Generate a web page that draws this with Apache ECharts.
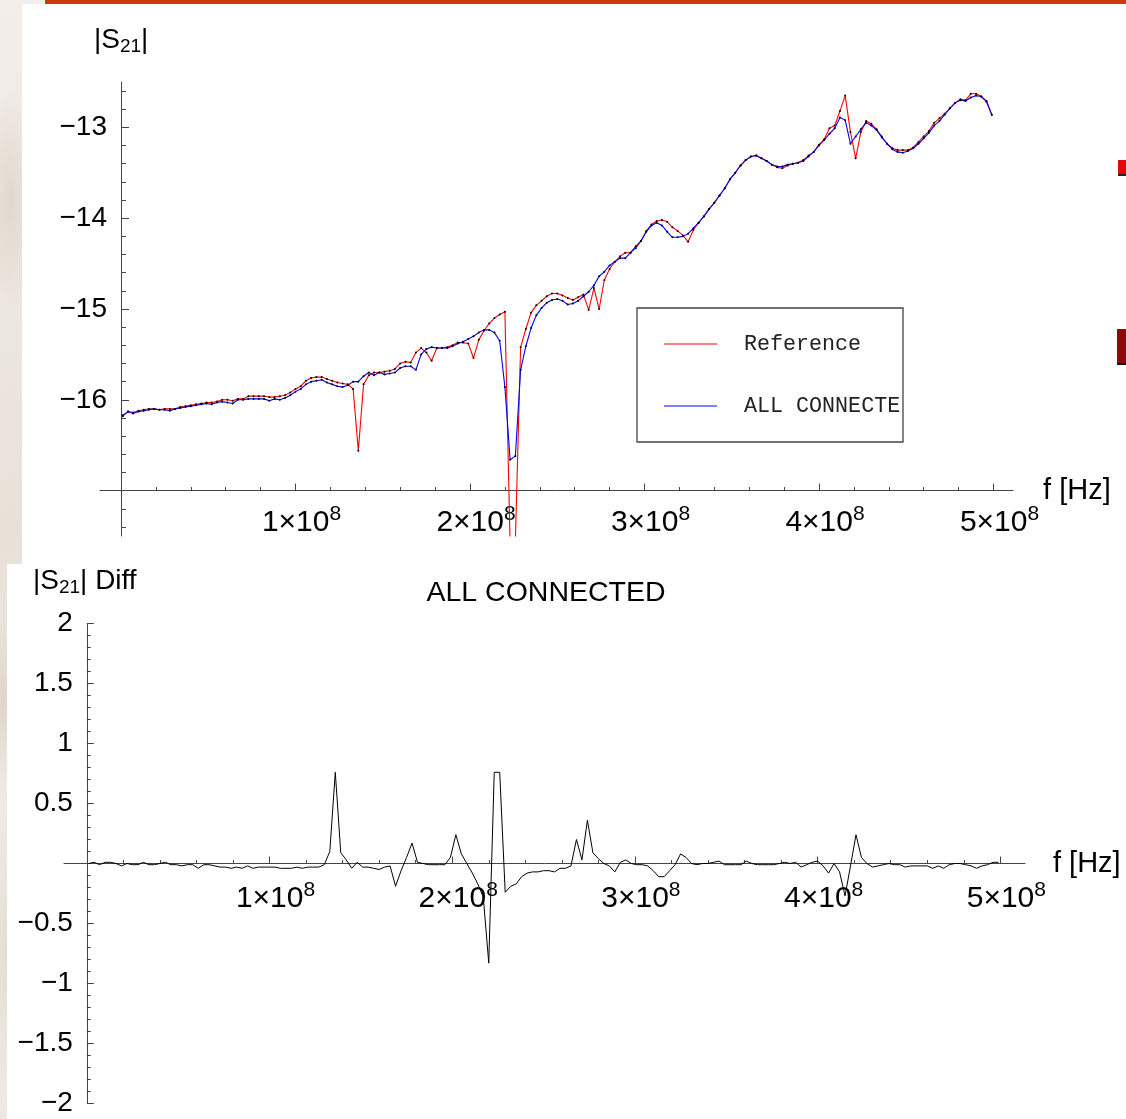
<!DOCTYPE html>
<html>
<head>
<meta charset="utf-8">
<script src="https://cdn.jsdelivr.net/npm/echarts@6/dist/echarts.min.js"></script>
<style>
html,body{margin:0;padding:0;}
body{width:1126px;height:1119px;position:relative;overflow:hidden;
  background:
   radial-gradient(ellipse 40px 160px at 10px 200px, rgba(214,200,186,0.55), rgba(214,200,186,0) 70%),
   radial-gradient(ellipse 30px 120px at 4px 700px, rgba(210,196,182,0.5), rgba(210,196,182,0) 70%),
   radial-gradient(ellipse 30px 200px at 6px 950px, rgba(222,210,198,0.6), rgba(222,210,198,0) 70%),
   linear-gradient(160deg, #f3eee9 0%, #e9e1d8 35%, #f2ece6 60%, #e6ddd3 100%);}
.pn{position:absolute;}
#chart{position:absolute;left:0;top:0;width:1126px;height:1119px;}
</style>
</head>
<body>
<div class="pn" style="left:45px;top:0;width:1081px;height:4px;background:#c93c0c"></div>
<div class="pn" style="left:22px;top:4px;width:1104px;height:562px;background:#fff"></div>
<div class="pn" style="left:7px;top:564px;width:1119px;height:555px;background:#fff"></div>
<div class="pn" style="left:1118px;top:160px;width:8px;height:14px;background:#e4060c;border-bottom:2px solid #222"></div>
<div class="pn" style="left:1117px;top:329px;width:9px;height:34px;background:#8c0a0a;border-bottom:2px solid #111"></div>
<div id="chart"></div>
<script>
// ---- data (frequency in MHz, |S21| values) ----
const freqMHz = [1,4,7,10,13,16,19,22,25,28,31,34,37,40,43,46,49,52,55,58,61,64,67,70,73,76,79,82,85,88,91,94,97,100,103,106,109,112,115,118,121,124,127,130,133,136,139,142,145,148,151,154,157,160,163,166,169,172,175,178,181,184,187,190,193,196,199,202,205,208,211,214,217,220,223,226,229,232,235,238,241,244,247,250,253,256,259,262,265,268,271,274,277,280,283,286,289,292,295,298,301,304,307,310,313,316,319,322,325,328,331,334,337,340,343,346,349,352,355,358,361,364,367,370,373,376,379,382,385,388,391,394,397,400,403,406,409,412,415,418,421,424,427,430,433,436,439,442,445,448,451,454,457,460,463,466,469,472,475,478,481,484,487,490,493,496,499];

const refS21 = [
-16.17,-16.13,-16.14,-16.12,-16.11,-16.10,-16.10,-16.11,-16.10,-16.10,
-16.10,-16.08,-16.07,-16.06,-16.05,-16.04,-16.03,-16.03,-16.02,-16.00,
-16.00,-16.01,-15.99,-15.99,-15.96,-15.96,-15.96,-15.96,-15.97,-15.97,
-15.96,-15.95,-15.92,-15.88,-15.85,-15.79,-15.76,-15.75,-15.75,-15.77,
-15.79,-15.81,-15.82,-15.83,-15.88,-16.56,-15.83,-15.73,-15.70,-15.70,
-15.69,-15.68,-15.66,-15.60,-15.58,-15.59,-15.48,-15.43,-15.48,-15.57,
-15.43,-15.43,-15.42,-15.40,-15.37,-15.37,-15.38,-15.54,-15.34,-15.24,
-15.16,-15.10,-15.06,-15.03,-17.60,-17.55,-15.42,-15.22,-15.04,-14.96,
-14.91,-14.86,-14.83,-14.83,-14.85,-14.88,-14.90,-14.87,-14.84,-15.01,
-14.77,-15.00,-14.68,-14.56,-14.48,-14.42,-14.38,-14.38,-14.33,-14.25,
-14.14,-14.07,-14.03,-14.02,-14.04,-14.10,-14.14,-14.19,-14.26,-14.13,
-14.05,-13.98,-13.90,-13.83,-13.75,-13.67,-13.57,-13.50,-13.42,-13.36,
-13.32,-13.31,-13.34,-13.37,-13.41,-13.44,-13.45,-13.42,-13.40,-13.39,
-13.36,-13.31,-13.27,-13.20,-13.13,-13.01,-12.98,-12.82,-12.65,-13.05,
-13.34,-13.05,-12.93,-12.96,-13.02,-13.10,-13.18,-13.23,-13.25,-13.25,
-13.25,-13.22,-13.16,-13.10,-13.04,-12.95,-12.90,-12.85,-12.79,-12.73,
-12.69,-12.70,-12.63,-12.63,-12.66,-12.72,-12.86];

const allConnectedS21 = [
-16.18,-16.13,-16.15,-16.13,-16.12,-16.11,-16.10,-16.11,-16.11,-16.12,
-16.10,-16.09,-16.08,-16.07,-16.06,-16.05,-16.04,-16.05,-16.03,-16.02,
-16.03,-16.04,-16.00,-16.00,-15.99,-15.99,-15.99,-15.99,-16.01,-15.99,
-16.00,-15.98,-15.95,-15.91,-15.88,-15.83,-15.80,-15.79,-15.78,-15.81,
-15.83,-15.85,-15.86,-15.84,-15.80,-15.80,-15.74,-15.70,-15.73,-15.70,
-15.72,-15.71,-15.70,-15.65,-15.63,-15.63,-15.67,-15.50,-15.44,-15.42,
-15.43,-15.43,-15.43,-15.41,-15.38,-15.36,-15.33,-15.30,-15.26,-15.23,
-15.23,-15.26,-15.35,-15.86,-16.66,-16.62,-15.67,-15.41,-15.21,-15.07,
-14.99,-14.93,-14.90,-14.89,-14.91,-14.95,-14.94,-14.91,-14.86,-14.81,
-14.74,-14.64,-14.59,-14.52,-14.48,-14.44,-14.44,-14.38,-14.31,-14.25,
-14.15,-14.08,-14.05,-14.08,-14.15,-14.21,-14.21,-14.20,-14.17,-14.11,
-14.05,-13.98,-13.90,-13.83,-13.75,-13.67,-13.57,-13.50,-13.42,-13.36,
-13.32,-13.31,-13.34,-13.37,-13.41,-13.43,-13.43,-13.41,-13.40,-13.39,
-13.37,-13.32,-13.27,-13.19,-13.14,-13.07,-13.01,-12.89,-12.92,-13.18,
-13.10,-13.02,-12.95,-12.98,-13.03,-13.11,-13.18,-13.24,-13.27,-13.28,
-13.26,-13.23,-13.18,-13.12,-13.06,-12.98,-12.93,-12.86,-12.79,-12.73,
-12.70,-12.71,-12.67,-12.65,-12.66,-12.71,-12.86];

const diffS21 = [
0.00,0.01,-0.01,0.01,0.01,0.00,-0.02,0.00,-0.01,-0.01,
0.01,-0.01,-0.01,0.00,0.01,-0.01,-0.01,-0.02,-0.01,-0.01,
-0.04,-0.01,-0.01,-0.02,-0.03,-0.03,-0.04,-0.03,-0.04,-0.02,
-0.04,-0.03,-0.03,-0.03,-0.03,-0.04,-0.04,-0.04,-0.03,-0.04,
-0.03,-0.03,-0.03,-0.01,0.10,0.76,0.09,0.03,-0.04,0.01,
-0.03,-0.03,-0.04,-0.05,-0.03,-0.02,-0.19,-0.06,0.05,0.17,
0.01,0.00,-0.01,-0.01,-0.01,-0.01,0.05,0.24,0.08,0.00,
-0.08,-0.17,-0.28,-0.83,0.76,0.76,-0.24,-0.19,-0.17,-0.11,
-0.08,-0.07,-0.07,-0.06,-0.06,-0.07,-0.04,-0.04,-0.02,0.20,
0.03,0.36,0.09,0.04,0.00,-0.02,-0.07,0.01,0.03,0.00,
-0.01,-0.01,-0.02,-0.06,-0.11,-0.11,-0.06,-0.01,0.08,0.05,
0.00,-0.01,0.00,0.00,0.01,0.02,-0.01,-0.01,-0.01,-0.01,
0.02,0.00,-0.01,-0.01,-0.01,-0.01,0.00,0.01,0.00,0.01,
-0.03,-0.01,0.01,0.02,-0.02,-0.08,0.00,-0.07,-0.27,-0.02,
0.24,0.05,0.00,-0.03,-0.02,-0.01,0.00,-0.01,-0.01,-0.03,
-0.02,-0.02,-0.02,-0.02,-0.04,-0.02,-0.04,-0.01,0.00,0.00,
-0.01,-0.02,-0.04,-0.02,-0.01,0.01,0.01];

// ---- tick positions / labels ----
const xMajorTicks = [1e8, 2e8, 3e8, 4e8, 5e8];
const xMinorTicks = [2e7,4e7,6e7,8e7,1.2e8,1.4e8,1.6e8,1.8e8,2.2e8,2.4e8,2.6e8,2.8e8,3.2e8,3.4e8,3.6e8,3.8e8,4.2e8,4.4e8,4.6e8,4.8e8];
const topYMajorTicks = [-17, -16, -15, -14, -13];
const topYLabels = [-16, -15, -14, -13];
const topYMinorTicks = [-17.4,-17.2,-16.8,-16.6,-16.4,-16.2,-15.8,-15.6,-15.4,-15.2,-14.8,-14.6,-14.4,-14.2,-13.8,-13.6,-13.4,-13.2,-12.8,-12.6];
const diffYMajorTicks = [-2,-1.5,-1,-0.5,0.5,1,1.5,2];
const diffYLabels = [-2,-1.5,-1,-0.5,0.5,1,1.5,2];
const diffYMinorTicks = [-1.9,-1.8,-1.7,-1.6,-1.4,-1.3,-1.2,-1.1,-0.9,-0.8,-0.7,-0.6,-0.4,-0.3,-0.2,-0.1,0.1,0.2,0.3,0.4,0.6,0.7,0.8,0.9,1.1,1.2,1.3,1.4,1.6,1.7,1.8,1.9];

const F = 'Liberation Sans, Arial, sans-serif';
const AX = '#444';
const minusFmt = v => String(v).replace('-', '\u2212');
const sciFmt = v => '{b|' + Math.round(v / 1e8) + '\u00d710}{s|8}';
const sciRich = {
  b: {fontFamily: F, fontSize: 30, color: '#000', lineHeight: 34, verticalAlign: 'bottom'},
  s: {fontFamily: F, fontSize: 21, color: '#000', lineHeight: 12, verticalAlign: 'top'}
};

function xAxisPair(grid, min, max, offset, labelMargin, nameGap) {
  return [
    {gridIndex: grid, type: 'value', min: min, max: max, position: 'bottom', offset: offset,
     axisLine: {show: true, onZero: false, lineStyle: {color: AX, width: 1}},
     axisTick: {show: true, inside: true, length: 7, customValues: xMajorTicks, lineStyle: {color: AX}},
     axisLabel: {show: true, customValues: xMajorTicks, formatter: sciFmt, rich: sciRich,
       margin: labelMargin, padding: [0, 0, 0, 12]},
     splitLine: {show: false},
     name: 'f [Hz]', nameLocation: 'end', nameGap: nameGap,
     nameTextStyle: {fontFamily: F, fontSize: 29, color: '#000', align: 'left', verticalAlign: 'middle'}},
    {gridIndex: grid, type: 'value', min: min, max: max, position: 'bottom', offset: offset,
     axisLine: {show: false, onZero: false},
     axisTick: {show: true, inside: true, length: 3.5, customValues: xMinorTicks, lineStyle: {color: AX}},
     axisLabel: {show: false}, splitLine: {show: false}}
  ];
}
function yAxisPair(grid, min, max, offset, majors, labels, minors, majLen, minLen) {
  return [
    {gridIndex: grid, type: 'value', min: min, max: max, position: 'left', offset: offset,
     axisLine: {show: true, onZero: false, lineStyle: {color: AX, width: 1}},
     axisTick: {show: true, inside: true, length: majLen, customValues: majors, lineStyle: {color: AX}},
     axisLabel: {show: true, customValues: labels, formatter: minusFmt, fontFamily: F, fontSize: 28, color: '#000', margin: 14},
     splitLine: {show: false}},
    {gridIndex: grid, type: 'value', min: min, max: max, position: 'left', offset: offset,
     axisLine: {show: false, onZero: false},
     axisTick: {show: true, inside: true, length: minLen, customValues: minors, lineStyle: {color: AX}},
     axisLabel: {show: false}, splitLine: {show: false}}
  ];
}

// top: grid x 100..1013, y 82..536 ; x axis drawn at y=-17, y axis at f=0
const topX = xAxisPair(0, -1.2034e7, 5.1117e8, -45.4, 13, 27);
const topY = yAxisPair(0, -17.5, -12.5, -21, topYMajorTicks, topYLabels, topYMinorTicks, 8, 5);
// bottom: grid x 64..1025, y 623.5..1103.5 ; x axis at diff=0, y axis at f=0
const botX = xAxisPair(1, -1.248e7, 5.135e8, -240, 16, 28);
const botY = yAxisPair(1, -2, 2, -22.8, diffYMajorTicks, diffYLabels, diffYMinorTicks, 7, 4);

const toPts = arr => freqMHz.map((f, i) => [f * 1e6, arr[i]]);

const chart = echarts.init(document.getElementById('chart'), null, {renderer: 'canvas'});
chart.setOption({
  backgroundColor: 'transparent',
  animation: false,
  grid: [
    {left: 100, top: 82, width: 913, height: 454, outerBoundsMode: 'none', containLabel: false},
    {left: 64, top: 623.5, width: 961, height: 480, outerBoundsMode: 'none', containLabel: false}
  ],
  xAxis: topX.concat(botX),
  yAxis: topY.concat(botY),
  legend: {
    orient: 'vertical', left: 637, top: 308,
    padding: [25, 0, 25, 27], itemGap: 40, itemWidth: 53, itemHeight: 14,
    borderColor: '#444', borderWidth: 1.3, backgroundColor: '#fff',
    selectedMode: false,
    icon: 'path://M0,0M0,6.4L53,6.4L53,7.6L0,7.6ZM53,14',
    data: [
      {name: 'Reference', itemStyle: {color: '#ff0000'}},
      {name: 'ALL CONNECTED', itemStyle: {color: '#0000ff'}}
    ],
    textStyle: {fontFamily: 'Liberation Mono, Courier New, monospace', fontSize: 21.7, color: '#222',
      lineHeight: 14, width: 159, overflow: 'truncate', ellipsis: '', padding: [0, 0, 0, 22]}
  },
  graphic: [
    {type: 'text', left: 94, top: 26, style: {
      text: '{m||S}{sub|21}{m||}',
      rich: {m: {fontFamily: F, fontSize: 28, fill: '#000', lineHeight: 30, verticalAlign: 'top'},
             sub: {fontFamily: F, fontSize: 19, fill: '#000', lineHeight: 14, verticalAlign: 'bottom'}}}},
    {type: 'text', left: 33, top: 567, style: {
      text: '{m||S}{sub|21}{m|| Diff}',
      rich: {m: {fontFamily: F, fontSize: 28, fill: '#000', lineHeight: 30, verticalAlign: 'top'},
             sub: {fontFamily: F, fontSize: 19, fill: '#000', lineHeight: 14, verticalAlign: 'bottom'}}}},
    {type: 'text', x: 546, y: 593, style: {text: 'ALL CONNECTED', fontFamily: F, fontSize: 28.5, fill: '#000',
      align: 'center', verticalAlign: 'middle'}}
  ],
  series: [
    {name: 'Reference', type: 'line', xAxisIndex: 0, yAxisIndex: 0, data: toPts(refS21),
     lineStyle: {color: '#ff0000', width: 1.1}, itemStyle: {color: '#000'},
     symbol: 'circle', symbolSize: 2, showSymbol: true, showAllSymbol: true, z: 3},
    {name: 'ALL CONNECTED', type: 'line', xAxisIndex: 0, yAxisIndex: 0, data: toPts(allConnectedS21),
     lineStyle: {color: '#0000ff', width: 1.1}, itemStyle: {color: '#000'},
     symbol: 'circle', symbolSize: 2, showSymbol: true, showAllSymbol: true, z: 4},
    {name: 'Diff', type: 'line', xAxisIndex: 2, yAxisIndex: 2, data: toPts(diffS21),
     lineStyle: {color: '#000', width: 1}, symbol: 'none', z: 3}
  ]
});
</script>
</body>
</html>
